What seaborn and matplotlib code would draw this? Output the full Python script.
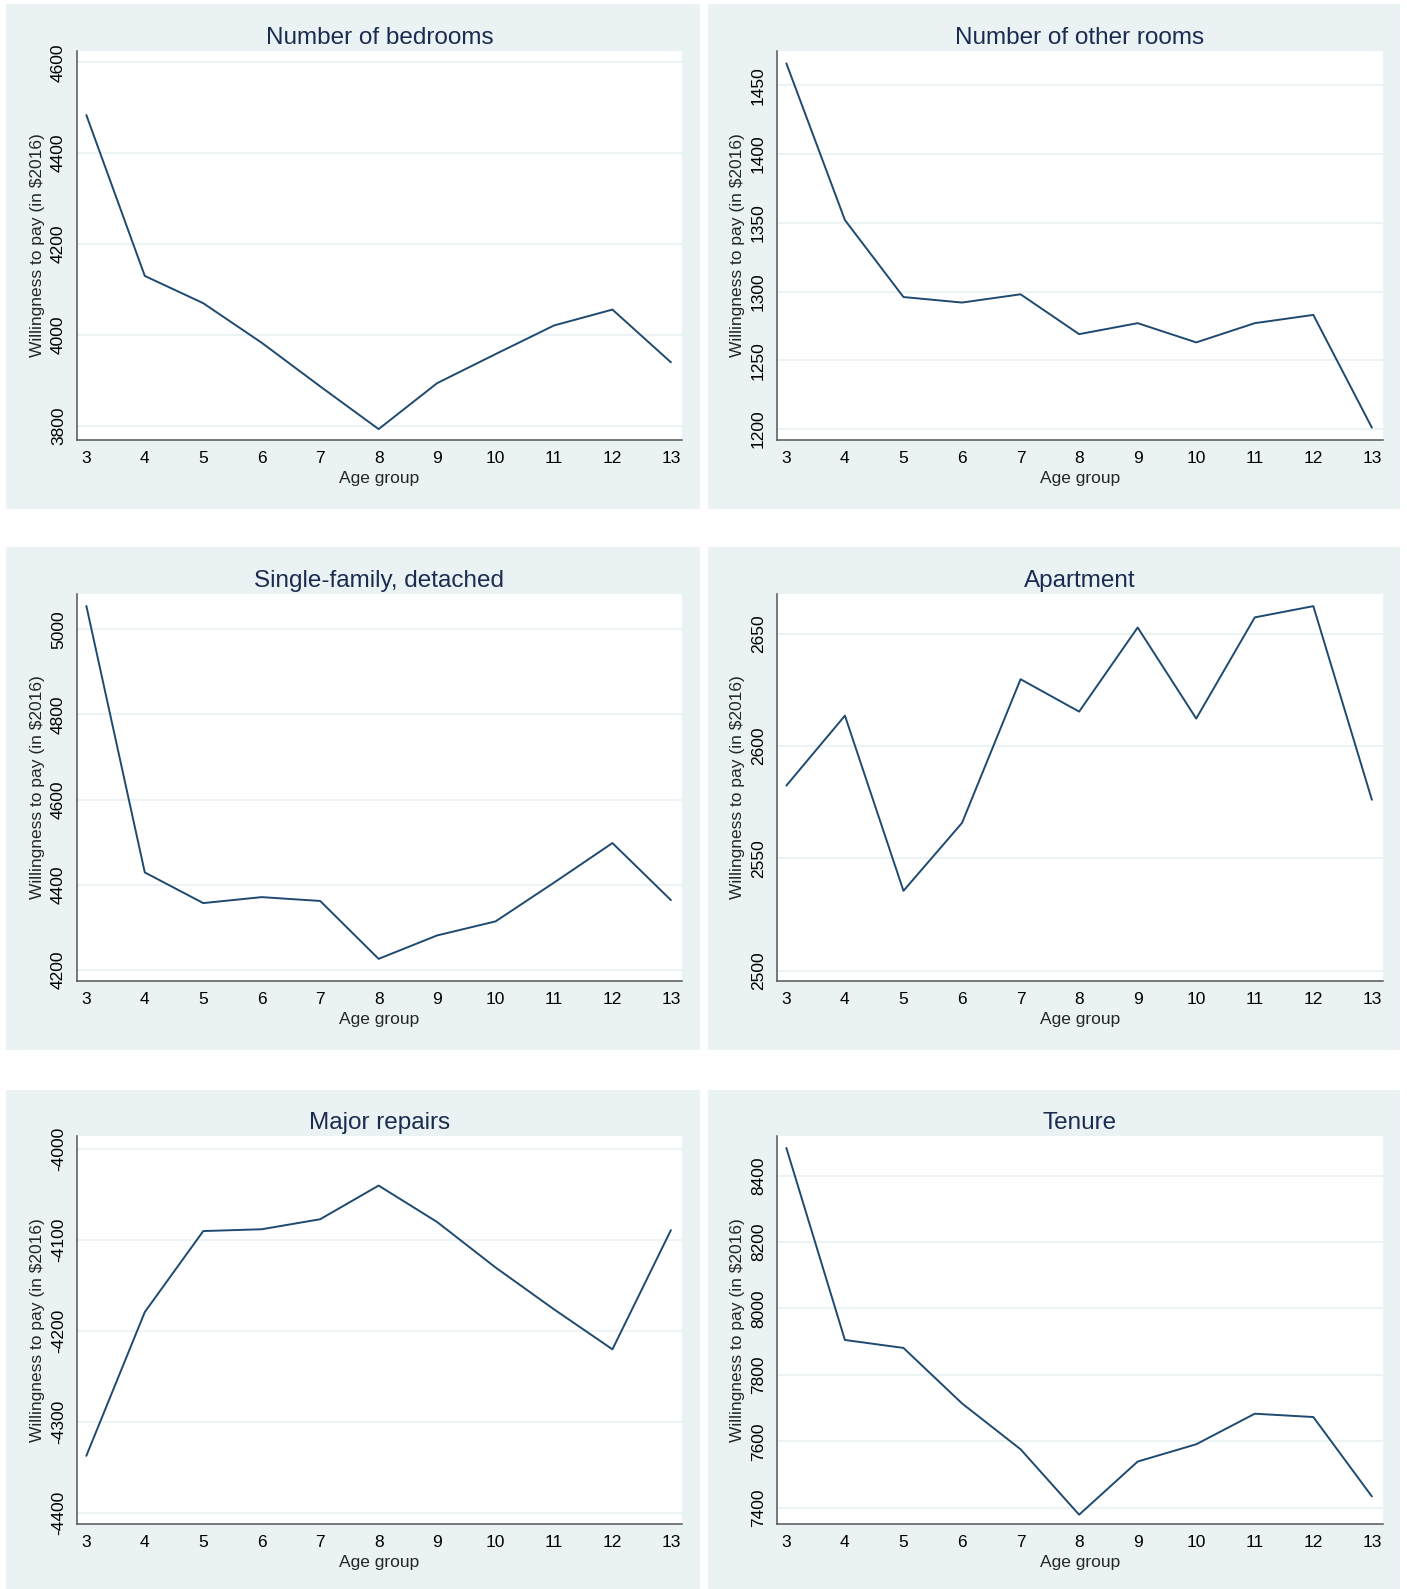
import numpy as np
import pandas as pd
import seaborn as sns
import matplotlib
matplotlib.use("Agg")
import matplotlib.pyplot as plt
from matplotlib.patches import Rectangle

sns.set_style("white")
plt.rcParams['font.family'] = ['Liberation Sans', 'DejaVu Sans']

# === 데이터 ===
ages = [3, 4, 5, 6, 7, 8, 9, 10, 11, 12, 13]

bedrooms = [4484, 4130, 4070, 3983, 3887, 3793, 3894, 3958, 4021, 4056, 3940]
other_rooms = [1466, 1352, 1296, 1292, 1298, 1269, 1277, 1263, 1277, 1283, 1201]
single_family = [5055, 4429, 4357, 4371, 4362, 4226, 4281, 4314, 4405, 4498, 4364]
apartment = [2582.4, 2613.5, 2535.6, 2565.8, 2629.7, 2615.3, 2652.7, 2612.2, 2657.2, 2662.2, 2576.1]
major_repairs = [-4337, -4179, -4090, -4088, -4077, -4040, -4080, -4130, -4176, -4220, -4089]
tenure = [8483, 7905, 7881, 7714, 7576, 7379, 7539, 7591, 7683, 7673, 7434]

titles = ["Number of bedrooms", "Number of other rooms", "Single-family, detached",
          "Apartment", "Major repairs", "Tenure"]
series = [bedrooms, other_rooms, single_family, apartment, major_repairs, tenure]
yticks = [[3800, 4000, 4200, 4400, 4600],
          [1200, 1250, 1300, 1350, 1400, 1450],
          [4200, 4400, 4600, 4800, 5000],
          [2500, 2550, 2600, 2650],
          [-4400, -4300, -4200, -4100, -4000],
          [7400, 7600, 7800, 8000, 8200, 8400]]
ylims = [(3769, 4625), (1192, 1475), (4174, 5083),
         (2495.5, 2667.6), (-4412, -3985.5), (7351, 8519)]

# === 배치 (픽셀) ===
W, H = 1407, 1589
bg_cols = [(6, 700), (708, 1400)]
plot_cols = [(77, 682), (777, 1383)]
bg_rows = [(4, 509), (547, 1050), (1090, 1589)]
plot_rows = [(51, 440), (594, 981), (1136, 1524)]

BG = '#eaf2f3'
LINE = '#1f4a70'
TITLE = '#1c2b50'
AX = '#555555'

fig = plt.figure(figsize=(W / 100, H / 100), dpi=100)

for i in range(6):
    r, c = divmod(i, 2)
    bx0, bx1 = bg_cols[c]
    by0, by1 = bg_rows[r]
    fig.patches.append(Rectangle((bx0 / W, 1 - by1 / H), (bx1 - bx0) / W, (by1 - by0) / H,
                                 transform=fig.transFigure, facecolor=BG,
                                 edgecolor='none', zorder=-5))
    px0, px1 = plot_cols[c]
    py0, py1 = plot_rows[r]
    ax = fig.add_axes([px0 / W, 1 - py1 / H, (px1 - px0) / W, (py1 - py0) / H])
    ax.set_facecolor('white')

    df = pd.DataFrame({'age': ages, 'wtp': series[i]})
    sns.lineplot(data=df, x='age', y='wtp', ax=ax, color=LINE, linewidth=1.4)

    ax.set_xlim(2.84, 13.19)
    ax.set_ylim(*ylims[i])
    ax.set_xticks(ages)
    ax.set_yticks(yticks[i])
    for t in yticks[i]:
        ax.axhline(t, color=BG, linewidth=1.3, zorder=0)
    ax.set_yticklabels([str(t) for t in yticks[i]], rotation=90, va='center')

    ax.tick_params(axis='both', direction='out', length=5, width=1, color=AX,
                   labelsize=12.5, labelcolor='black', pad=3)
    for s in ['top', 'right']:
        ax.spines[s].set_visible(False)
    for s in ['left', 'bottom']:
        ax.spines[s].set_color(AX)
        ax.spines[s].set_linewidth(1.1)

    ax.set_title(titles[i], fontsize=17.5, color=TITLE, pad=5)
    ax.set_xlabel("Age group", fontsize=12.5, labelpad=3.5)
    ax.set_ylabel("Willingness to pay (in \\$2016)", fontsize=12.5, labelpad=4)

fig.savefig("out.png", dpi=100)
